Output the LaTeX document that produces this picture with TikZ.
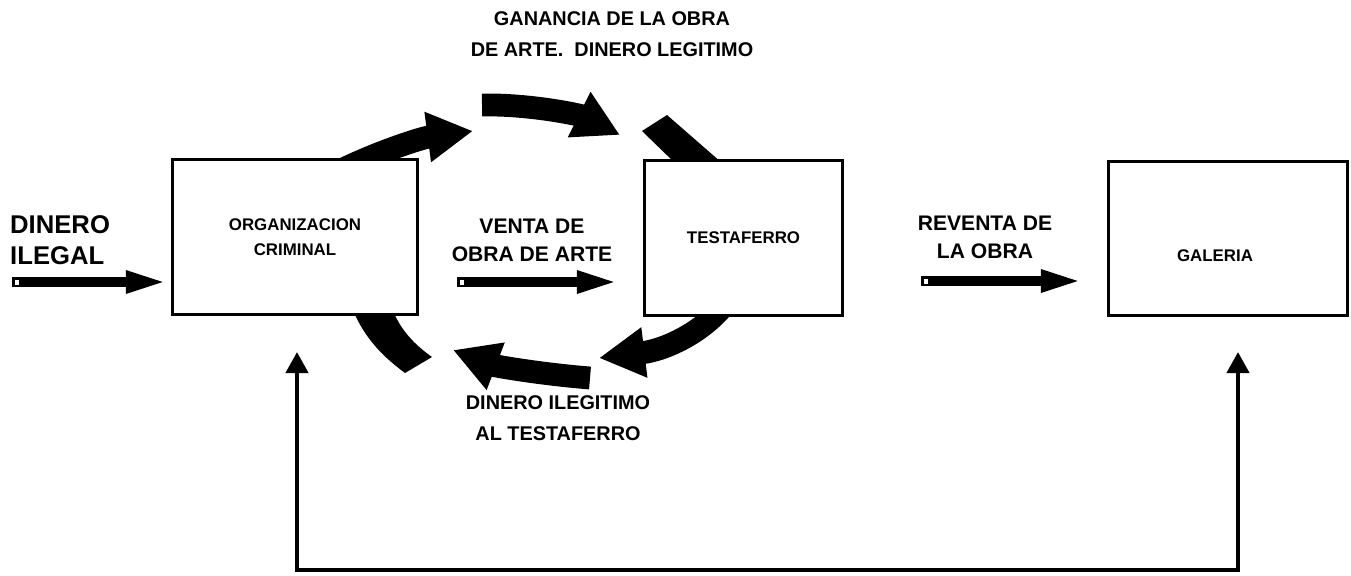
\documentclass[tikz,border=0pt]{standalone}
\usepackage{fontspec}
\setmainfont{Liberation Sans}
\usetikzlibrary{arrows.meta}

\tikzset{
  boxfont/.style={font=\bfseries\fontsize{9.6}{14}\selectfont, align=center},
  box/.style={draw, line width=1.7pt, fill=white, minimum width=#1,
    minimum height=88pt, inner sep=0pt, boxfont},
  big/.style={font=\bfseries\fontsize{14.6}{18}\selectfont, align=left},
  mid/.style={font=\bfseries\fontsize{11.3}{18}\selectfont, align=center},
  flow/.style={line width=5.7pt, -{Triangle[length=24pt,width=11.5pt]}},
  fat/.style={line width=13pt, -{Triangle[length=26pt,width=27pt]}},
  back/.style={line width=2.6pt, {Triangle[length=12pt,width=12.5pt]}-{Triangle[length=12pt,width=12.5pt]}}
}

\begin{document}
\begin{tikzpicture}[x=0.02cm, y=-0.02cm]
\useasboundingbox (0,0) rectangle (1351,575);

% big round arrows (the boxes cover their hidden parts)
\draw[fat] (305,190) .. controls (352,160) and (420,138) .. (473,131);
\draw[fat] (482,105) .. controls (530,104) and (580,115) .. (620,135);
\draw[fat] (728,300) .. controls (705,332) and (665,350) .. (599,358);
\draw[fat] (590,378) .. controls (540,374) and (495,366) .. (453,350);
\fill (642,131) -- (667,115) -- (722,163) -- (675,163) -- cycle;
\fill (352,308) .. controls (365,340) and (385,358) .. (405,373) -- (432,357)
  .. controls (415,345) and (400,330) .. (392,308) -- cycle;

% boxes
\node[box=139.5pt] (org) at (295,237) {ORGANIZACION\\CRIMINAL};
\node[box=112.8pt] (testa) at (743.5,238) {TESTAFERRO};
\node[box=136pt] (gal) at (1228,238.5) {};
\node[boxfont] (galtext) at ([xshift=-7.4pt,yshift=-9.6pt]gal.center) {GALERIA};

% labels
\node[big, anchor=west] (ilegal) at (4,240) {DINERO\\ILEGAL};
\node[mid] (ganancia) at (612,34) {GANANCIA DE LA OBRA\\DE ARTE.\ \ DINERO LEGITIMO};
\node[mid, font=\bfseries\fontsize{12}{16}\selectfont] (venta) at (532,240) {VENTA DE\\OBRA DE ARTE};
\node[mid, font=\bfseries\fontsize{12}{16}\selectfont] (reventa) at (985,237) {REVENTA DE\\LA OBRA};
\node[mid] (ilegitimo) at (558,418) {DINERO ILEGITIMO\\AL TESTAFERRO};

% straight arrows
\coordinate (d0) at (12,282);
\coordinate (d1) at (168,282);
\coordinate (v0) at (457,282);
\coordinate (v1) at (619,282);
\coordinate (r0) at (921,281);
\coordinate (r1) at (1083,281);
\draw[flow] (d0) -- (d1);
\draw[flow] (v0) -- (v1);
\draw[flow] (r0) -- (r1);
\fill[white] (15,279.5) rectangle (19,285);
\fill[white] (460,279.5) rectangle (464,285);
\fill[white] (924,278.5) rectangle (928,284);

% money back to the organization
\coordinate (b0) at (297,352);
\coordinate (b1) at (1238,352);
\draw[back] (b0) -- ++(0,218) -| (b1);
\end{tikzpicture}
\end{document}
